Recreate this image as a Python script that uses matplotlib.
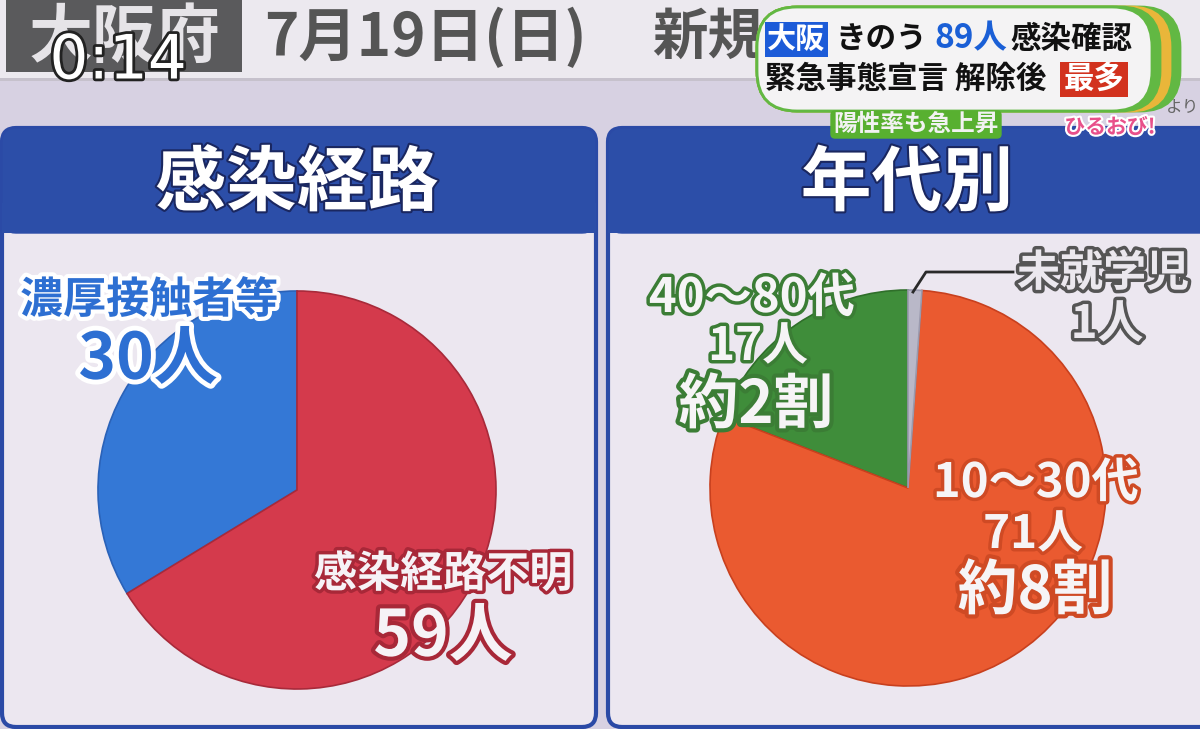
import matplotlib
matplotlib.use("Agg")
import matplotlib.pyplot as plt
import matplotlib.patheffects as pe
from matplotlib.patches import FancyBboxPatch, Rectangle

plt.rcParams['font.family'] = ['Noto Sans CJK JP', 'DejaVu Sans']

# data
route_labels = ["濃厚接触者等", "感染経路不明"]
route_counts = [30, 59]
route_colors = ["#3478d6", "#d43a4c"]

age_labels = ["40〜80代", "10〜30代", "未就学児"]
age_counts = [17, 71, 1]
age_share = ["約2割", "約8割", ""]
age_colors = ["#3f8d3a", "#ea5a30", "#b9b8c8"]

W, H = 1200, 729


def Y(y):
    # pixel row from the top -> data y (y up)
    return H - y


def stroke(color, lw):
    return [pe.withStroke(linewidth=lw, foreground=color)]


fig = plt.figure(figsize=(12, 7.29), dpi=100)
fig.patch.set_facecolor("#d7d1e2")
ax = fig.add_axes([0, 0, 1, 1])

# panels
for x0, x1 in [(2, 596), (608, 1230)]:
    ax.add_patch(FancyBboxPatch((x0, Y(727)), x1 - x0, 727 - 128,
                                boxstyle="round,pad=0,rounding_size=14",
                                facecolor="#ece7f0", edgecolor="#2b4aa6", lw=3, zorder=1))
    ax.add_patch(FancyBboxPatch((x0, Y(233)), x1 - x0, 233 - 128,
                                boxstyle="round,pad=0,rounding_size=14",
                                facecolor="#2c4ea8", edgecolor="#2b4aa6", lw=1, zorder=2))
    ax.add_patch(Rectangle((x0, Y(233)), x1 - x0, 30, facecolor="#2c4ea8", lw=0, zorder=2))

ax.text(297, Y(184), "感染経路", fontsize=51, fontweight="bold", color="white",
        ha="center", va="center", zorder=5, path_effects=stroke("#1a2760", 3))
ax.text(907, Y(184), "年代別", fontsize=51, fontweight="bold", color="white",
        ha="center", va="center", zorder=5, path_effects=stroke("#1a2760", 3))

# pies
w1, _ = ax.pie(route_counts, colors=route_colors, startangle=90, counterclock=True,
               center=(297, Y(490)), radius=199,
               wedgeprops=dict(linewidth=1.2))
for w, ec in zip(w1, ["#2a62b8", "#a82a3a"]):
    w.set_edgecolor(ec)
    w.set_zorder(3)

w2, _ = ax.pie(age_counts, colors=age_colors, startangle=90, counterclock=True,
               center=(908, Y(488)), radius=198,
               wedgeprops=dict(linewidth=1.2))
for w, ec in zip(w2, ["#2f6f2a", "#c8401e", "#9a9aae"]):
    w.set_edgecolor(ec)
    w.set_zorder(3)

# route labels
ax.text(149, Y(300), route_labels[0], fontsize=31, fontweight="bold", color="#2d6fd2",
        ha="center", va="center", zorder=6, path_effects=stroke("white", 6))
ax.text(148, Y(360), f"{route_counts[0]}人", fontsize=46, fontweight="bold", color="#2d6fd2",
        ha="center", va="center", zorder=6, path_effects=stroke("white", 7))
ax.text(443, Y(574), route_labels[1], fontsize=31, fontweight="bold", color="#f6f2f6",
        ha="center", va="center", zorder=6, path_effects=stroke("#a82838", 5))
ax.text(443, Y(637), f"{route_counts[1]}人", fontsize=46, fontweight="bold", color="#f6f2f6",
        ha="center", va="center", zorder=6, path_effects=stroke("#a82838", 6))

# age labels
ax.text(752, Y(298), age_labels[0], fontsize=34, fontweight="bold", color="#f6f4f6",
        ha="center", va="center", zorder=6, path_effects=stroke("#3b7d35", 5))
ax.text(758, Y(347), f"{age_counts[0]}人", fontsize=33, fontweight="bold", color="#f6f4f6",
        ha="center", va="center", zorder=6, path_effects=stroke("#3b7d35", 5))
ax.text(756, Y(406), age_share[0], fontsize=43, fontweight="bold", color="#f6f4f6",
        ha="center", va="center", zorder=6, path_effects=stroke("#3b7d35", 6))

ax.text(1036, Y(483), age_labels[1], fontsize=34, fontweight="bold", color="#f6f4f6",
        ha="center", va="center", zorder=6, path_effects=stroke("#cf4a24", 5))
ax.text(1033, Y(535), f"{age_counts[1]}人", fontsize=33, fontweight="bold", color="#f6f4f6",
        ha="center", va="center", zorder=6, path_effects=stroke("#cf4a24", 5))
ax.text(1035, Y(592), age_share[1], fontsize=43, fontweight="bold", color="#f6f4f6",
        ha="center", va="center", zorder=6, path_effects=stroke("#cf4a24", 6))

ax.text(1103, Y(273), age_labels[2], fontsize=31, fontweight="bold", color="#ebe8ee",
        ha="center", va="center", zorder=6, path_effects=stroke("#555555", 5))
ax.text(1107, Y(325), f"{age_counts[2]}人", fontsize=33, fontweight="bold", color="#ebe8ee",
        ha="center", va="center", zorder=6, path_effects=stroke("#555555", 5))
ax.plot([913, 926, 1013], [Y(292), Y(272), Y(272)], color="#2a2a2a", lw=2, zorder=6)

# top band
ax.add_patch(Rectangle((0, Y(78)), W, 78, facecolor="#ece9ef", lw=0, zorder=1))
ax.add_patch(Rectangle((0, Y(81)), W, 3, facecolor="#c6c1cc", lw=0, zorder=1))
ax.add_patch(Rectangle((6, Y(72)), 236, 80, facecolor="#5a5a5c", lw=0, zorder=2))
ax.text(124, Y(38), "大阪府", fontsize=46, fontweight="bold", color="#e6e4e8",
        ha="center", va="center", zorder=3)
ax.text(264, Y(38), "7月19日(日)", fontsize=42, fontweight="bold", color="#555555",
        ha="left", va="center", zorder=3)
ax.text(652, Y(38), "新規", fontsize=40, fontweight="bold", color="#555555",
        ha="left", va="center", zorder=3)
ax.text(118, Y(62), "0:14", fontsize=44, color="white", family="DejaVu Sans",
        ha="center", va="center", zorder=4, path_effects=stroke("#222222", 4))

# news caption overlay
for x1, col in [(1180, "#62b843"), (1170, "#e9b63a"), (1160, "#62b843"), (1152, "#f4f3f4")]:
    ax.add_patch(FancyBboxPatch((757, Y(111)), x1 - 757, 104,
                                boxstyle="round,pad=0,rounding_size=40",
                                facecolor=col, edgecolor="#62b843" if col == "#f4f3f4" else col,
                                lw=2, zorder=7))
ax.add_patch(Rectangle((765, Y(57)), 63, 35, facecolor="#1c5bd8", lw=0, zorder=8))
ax.text(796, Y(39), "大阪", fontsize=21, fontweight="bold", color="white",
        ha="center", va="center", zorder=9)
ax.text(836, Y(39), "きのう", fontsize=22, fontweight="bold", color="#111111",
        ha="left", va="center", zorder=9)
ax.text(934, Y(39), f"{sum(age_counts)}人", fontsize=24, fontweight="bold", color="#1a5fd6",
        ha="left", va="center", zorder=9)
ax.text(1010, Y(39), "感染確認", fontsize=22, fontweight="bold", color="#111111",
        ha="left", va="center", zorder=9)
ax.text(765, Y(79), "緊急事態宣言 解除後", fontsize=22, fontweight="bold", color="#111111",
        ha="left", va="center", zorder=9)
ax.add_patch(Rectangle((1060, Y(97)), 68, 35, facecolor="#d2321e", lw=0, zorder=8))
ax.text(1094, Y(79), "最多", fontsize=22, fontweight="bold", color="white",
        ha="center", va="center", zorder=9)
ax.text(1182, Y(107), "より", fontsize=12, color="#666666", ha="center", va="center", zorder=9)
ax.add_patch(FancyBboxPatch((831, Y(138)), 170, 27, boxstyle="round,pad=0,rounding_size=4",
                            facecolor="#58b030", edgecolor="#58b030", zorder=8))
ax.text(916, Y(124), "陽性率も急上昇", fontsize=17, fontweight="bold", color="#f2f2f2",
        ha="center", va="center", zorder=9)
ax.text(1110, Y(127), "ひるおび!", fontsize=15, fontweight="bold", color="#e8508a",
        ha="center", va="center", zorder=9, path_effects=stroke("white", 3))

ax.set_xlim(0, W)
ax.set_ylim(0, H)
ax.set_aspect("auto")
ax.axis("off")

fig.savefig("out.png", dpi=100, facecolor=fig.get_facecolor())
